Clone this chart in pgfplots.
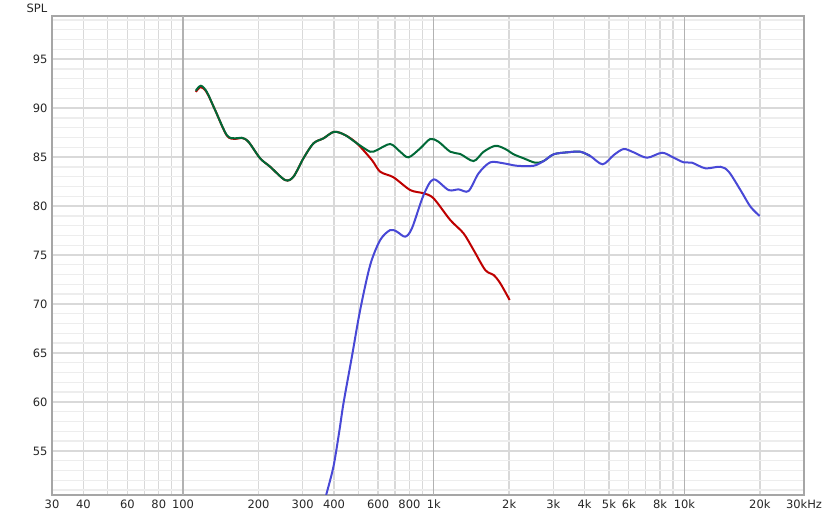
\documentclass[border=0pt]{standalone}
\usepackage{pgfplots}
\pgfplotsset{compat=1.18}
\usepackage{fontspec}
\setmainfont{DejaVu Sans}
\definecolor{cred}{RGB}{190,0,0}
\definecolor{cgreen}{RGB}{0,105,55}
\definecolor{cblue}{RGB}{72,72,214}
\begin{document}
\begin{tikzpicture}
\begin{axis}[
  scale only axis, width=752pt, height=479pt,
  xmode=log, xmin=30, xmax=30000, ymin=50.5, ymax=99.4,
  log basis x=10,
  xtick={30,40,50,60,70,80,90,200,300,400,500,600,700,800,900,2000,3000,4000,5000,6000,7000,8000,9000,20000,30000},
  xticklabels={30,40,{},60,{},80,{},200,300,400,{},600,{},800,{},2k,3k,4k,5k,6k,{},8k,{},20k,30kHz},
  extra x ticks={100,1000,10000},
  extra x tick labels={100,1k,10k},
  extra x tick style={xmajorgrids=true, major grid style={draw=black!30, line width=1.4pt}},
  xmajorgrids=true,
  ytick={55,60,...,95},
  minor ytick={51,52,...,99},
  ymajorgrids=true, yminorgrids=true,
  major grid style={draw=black!15, line width=1.4pt},
  minor grid style={draw=black!7, line width=1.4pt},
  major tick length=0pt, minor tick length=0pt,
  axis line style={draw=black!35, line width=2pt},
  ticklabel style={font=\fontsize{11.5}{13}\selectfont, text=black!85},
  /pgf/number format/assume math mode=true,
  xticklabel style={yshift=-1pt},
  yticklabel style={xshift=-1pt},
]
\addplot[cred, line width=2pt, smooth] coordinates {
(112.4,91.65) (117.7,92.15) (124.3,91.6) (134.2,89.8) (149.4,87.2) (161.3,86.85)
(171.5,86.95) (182.3,86.56) (203.0,84.87) (222.5,84.01) (255.4,82.65) (275.6,82.99)
(302.1,84.87) (331.3,86.40) (363.2,86.91) (400.7,87.58) (443.4,87.24) (493.7,86.40)
(566.7,84.69) (611.6,83.50) (691.2,82.93) (805.7,81.63) (910.8,81.30) (998,80.79)
(1164,78.57) (1315,77.21) (1442,75.51) (1605,73.47) (1733,72.96) (1843,72.11) (2008,70.41)
};
\addplot[cgreen, line width=2pt, smooth] coordinates {
(112.4,91.77) (117.7,92.28) (124.3,91.66) (134.2,89.80) (149.4,87.24) (161.3,86.91)
(171.5,86.97) (182.3,86.56) (203.0,84.87) (222.5,84.01) (255.4,82.65) (275.6,82.99)
(302.1,84.87) (331.3,86.40) (363.2,86.91) (400.7,87.58) (443.4,87.24) (493.7,86.40)
(557.9,85.54) (593.2,85.71) (670.5,86.33) (735.0,85.54) (793.3,84.97) (883.4,85.89)
(968.3,86.84) (1045,86.56) (1164,85.54) (1276,85.31) (1442,84.59) (1581,85.54)
(1761,86.15) (1930,85.82) (2083,85.28) (2284,84.87) (2542,84.42) (2744,84.59)
(3008,85.28) (3402,85.48) (3844,85.54) (4215,85.10)
};
\addplot[cblue, line width=2pt, smooth] coordinates {
(372.3,50.51) (398.1,53.40) (420,57.0) (436.5,59.87) (471.5,64.62) (508.8,69.39) (557.9,73.98)
(611.6,76.53) (670.5,77.55) (713.1,77.38) (769.6,76.87) (818.4,77.72) (910.8,81.12)
(998.2,82.72) (1146,81.63) (1256,81.70) (1377,81.53) (1510,83.34) (1681,84.46)
(1899,84.36) (2148,84.11) (2503,84.11) (2744,84.59) (3008,85.28) (3402,85.48)
(3844,85.54) (4215,85.10) (4720,84.26) (5223,85.20) (5725,85.82) (6275,85.48)
(7097,84.93) (8147,85.44) (9065,84.93) (9936,84.46) (10733,84.42) (12130,83.85)
(13923,84.01) (15030,83.50) (16736,81.63) (18346,79.93) (19976,78.98)
};
\end{axis}
\node[font=\fontsize{11.5}{13}\selectfont, text=black!85] at ([xshift=-15pt,yshift=8pt]current axis.north west) {SPL};
\path (current axis.south west) ++(-52pt,-23pt) rectangle ++(830pt,518pt);
\end{tikzpicture}
\end{document}
